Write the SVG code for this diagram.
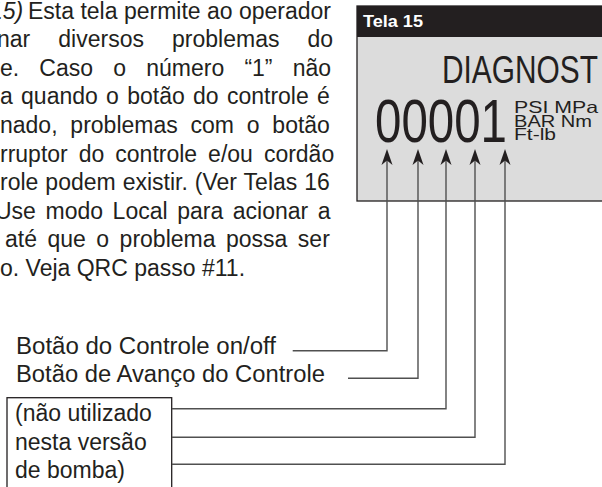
<svg xmlns="http://www.w3.org/2000/svg" width="602" height="487" viewBox="0 0 602 487">
<style>
.t{font-family:"Liberation Sans",Arial,sans-serif;font-size:23px;fill:#231f20}
.c{fill:none;stroke:#505050;stroke-width:1.4}
.cond{font-family:"Liberation Sans",Arial,sans-serif;fill:#231f20}
</style>
<defs>
<marker id="ah" markerUnits="userSpaceOnUse" viewBox="-17 -6 18 12" refX="-3" refY="0" markerWidth="18" markerHeight="12" orient="auto">
<path d="M0,0 L-16,-5.5 L-11.5,0 L-16,5.5 Z" fill="#231f20"/>
</marker>
</defs>
<rect width="602" height="487" fill="#ffffff"/>

<g id="paragraph">
<text class="t" x="-10" y="18.5" font-style="italic">15)</text>
<text class="t" x="28" y="18.5">Esta tela permite ao operador</text>
<text class="t" x="-3" y="47.1" word-spacing="21.7">nar diversos problemas do</text>
<text class="t" x="0" y="75.7" word-spacing="13.8">e. Caso o número “1” não</text>
<text class="t" x="0" y="104.3" word-spacing="1.9">a quando o botão do controle é</text>
<text class="t" x="0" y="132.9" word-spacing="6.4">nado, problemas com o botão</text>
<text class="t" x="0" y="161.5" word-spacing="4.6">rruptor do controle e/ou cordão</text>
<text class="t" x="0" y="190.1" word-spacing="0.6">role podem existir. (Ver Telas 16</text>
<text class="t" x="-5" y="218.7" word-spacing="3.2">Use modo Local para acionar a</text>
<text class="t" x="5" y="247.3" word-spacing="4.1">até que o problema possa ser</text>
<text class="t" x="0" y="275.9">o. Veja QRC passo #11.</text>
</g>

<g id="screen">
<rect x="357" y="6" width="250" height="195" fill="#dcdcdc" stroke="#231f20" stroke-width="1.3"/>
<rect x="357" y="6" width="250" height="31" fill="#231f20"/>
<text x="363" y="27" font-family="'Liberation Sans',Arial,sans-serif" font-weight="bold" font-size="16" fill="#ffffff" textLength="60" lengthAdjust="spacingAndGlyphs">Tela 15</text>
<text class="cond" x="442" y="83.3" font-size="39" textLength="156" lengthAdjust="spacingAndGlyphs">DIAGNOST</text>
<text class="cond" x="375" y="141.5" font-size="62" textLength="132" lengthAdjust="spacingAndGlyphs">00001</text>
<text class="cond" x="514" y="113" font-size="16.5" textLength="84" lengthAdjust="spacingAndGlyphs">PSI MPa</text>
<text class="cond" x="514" y="126.5" font-size="16.5" textLength="78" lengthAdjust="spacingAndGlyphs">BAR Nm</text>
<text class="cond" x="514" y="140" font-size="16.5" textLength="42" lengthAdjust="spacingAndGlyphs">Ft-lb</text>
</g>

<g id="label-onoff">
<text class="t" x="16" y="354" textLength="260" lengthAdjust="spacingAndGlyphs">Botão do Controle on/off</text>
</g>
<g id="label-avanco">
<text class="t" x="16" y="381.5" textLength="309" lengthAdjust="spacingAndGlyphs">Botão de Avanço do Controle</text>
</g>
<g id="label-unused">
<rect x="7" y="397.7" width="164.7" height="100" fill="none" stroke="#231f20" stroke-width="1.3"/>
<text class="t" x="15" y="420.5">(não utilizado</text>
<text class="t" x="15" y="449.5">nesta versão</text>
<text class="t" x="15" y="477.5">de bomba)</text>
</g>

<g id="connectors">
<path class="c" d="M292.7,350.7 H387 V152" marker-end="url(#ah)"/>
<path class="c" d="M348,378.3 H418 V152" marker-end="url(#ah)"/>
<path class="c" d="M172,408.7 H446 V152" marker-end="url(#ah)"/>
<path class="c" d="M172,437.3 H475 V152" marker-end="url(#ah)"/>
<path class="c" d="M172,464.3 H505 V152" marker-end="url(#ah)"/>
</g>
</svg>
